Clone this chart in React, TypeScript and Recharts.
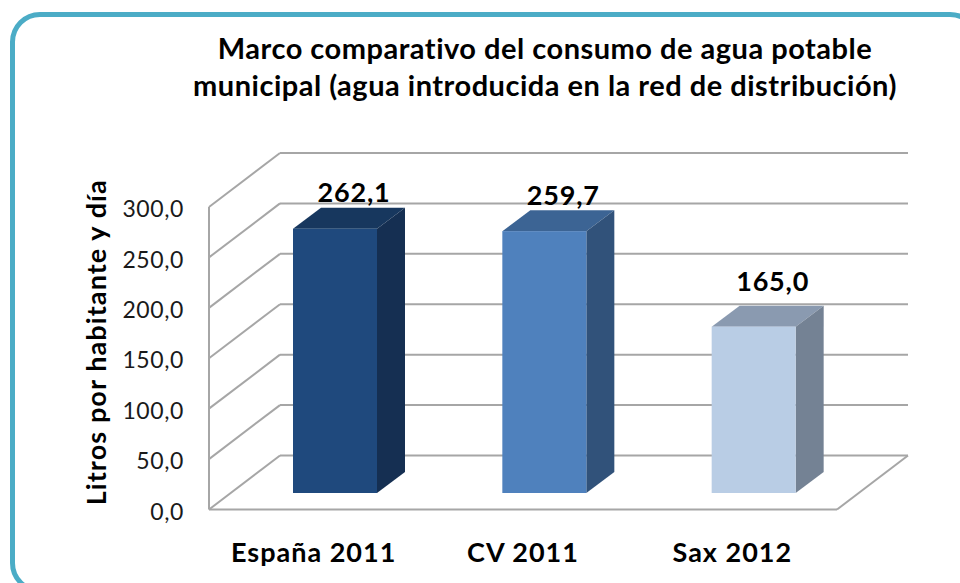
import React from "react";
import { BarChart, Bar, XAxis, YAxis, CartesianGrid, LabelList, Label } from "recharts";

const categories = ["España 2011", "CV 2011", "Sax 2012"];
const values = [262.1, 259.7, 165.0];
const yTicks = [0, 50, 100, 150, 200, 250, 300];
const titleLines = [
  "Marco comparativo del consumo de agua potable",
  "municipal (agua introducida en la red de distribución)",
];
const yTitle = "Litros por habitante y día";

const FONT = "Lato, 'Open Sans', sans-serif";
const frontColors = ["#1F497D", "#4F81BD", "#B9CDE5"];
const sideColors = ["#152F52", "#31527A", "#748294"];
const topColors = ["#17375E", "#3C6494", "#8A9AB0"];
const labelLift = [0, 0, 9];
const GRID = "#A6A6A6";
const PLOT_BOTTOM = 509.5;
const WALL_DX = 71;
const WALL_DY = 54;
const BAR_DX = 21;
const BAR_DY = 16.5;
const DEPTH_X = 28;
const DEPTH_Y = 21;

const data = categories.map((name, i) => ({ name, value: values[i] }));
const fmt = (v: number) => v.toFixed(1).replace(".", ",");

function Bar3D(props: any) {
  const { x, y, width, height, index } = props;
  const l = x + BAR_DX;
  const r = l + width;
  const t = y - BAR_DY;
  const b = t + height;
  return (
    <g>
      <polygon
        points={`${l},${t} ${l + DEPTH_X},${t - DEPTH_Y} ${r + DEPTH_X},${t - DEPTH_Y} ${r},${t}`}
        fill={topColors[index]}
      />
      <polygon
        points={`${r},${t} ${r + DEPTH_X},${t - DEPTH_Y} ${r + DEPTH_X},${b - DEPTH_Y} ${r},${b}`}
        fill={sideColors[index]}
      />
      <rect x={l} y={t} width={width} height={height} fill={frontColors[index]} />
    </g>
  );
}

function GridLine(props: any) {
  const { x1, x2, y1 } = props;
  const isFloor = Math.abs(y1 - PLOT_BOTTOM) < 1;
  const back = y1 - WALL_DY;
  return (
    <g fill="none" stroke={GRID} strokeWidth={2}>
      <line x1={x1} y1={y1} x2={x1 + WALL_DX} y2={back} />
      <line x1={x1 + WALL_DX} y1={back} x2={x2 + WALL_DX} y2={back} />
      {isFloor && <line x1={x2} y1={y1} x2={x2 + WALL_DX} y2={back} />}
    </g>
  );
}

function BarValue(props: any) {
  const { x, y, width, index, value } = props;
  return (
    <text
      x={x + width / 2 + 40}
      y={y - 43 - labelLift[index]}
      textAnchor="middle"
      fontFamily={FONT}
      fontWeight={700}
      fontSize={27}
      letterSpacing={0.8}
      fill="#000"
    >
      {fmt(value)}
    </text>
  );
}

export default function App() {
  return (
    <div style={{ position: "absolute", left: 0, top: 0, width: 960, height: 583, overflow: "hidden", background: "#fff" }}>
      <div
        style={{
          position: "absolute",
          left: 10,
          top: 12,
          width: 970,
          height: 581,
          boxSizing: "border-box",
          border: "5px solid #4BACC6",
          borderRadius: 30,
        }}
      />
      <div
        style={{
          position: "absolute",
          left: 150,
          top: 29,
          width: 790,
          textAlign: "center",
          fontFamily: FONT,
          fontWeight: 700,
          fontSize: 29,
          letterSpacing: 0.5,
          lineHeight: "37px",
          color: "#000",
        }}
      >
        {titleLines.map((t) => (
          <div key={t} style={{ whiteSpace: "nowrap" }}>{t}</div>
        ))}
      </div>
      <div style={{ position: "absolute", left: 0, top: 0 }}>
        <BarChart
          width={960}
          height={583}
          data={data}
          barSize={84}
          margin={{ top: 207, right: 123, bottom: 33.5, left: 129 }}
        >
          <CartesianGrid vertical={false} horizontal={GridLine as any} />
          <XAxis
            dataKey="name"
            height={40}
            tickLine={false}
            axisLine={{ stroke: GRID, strokeWidth: 2 }}
            tick={{ fontFamily: FONT, fontWeight: 700, fontSize: 27, letterSpacing: 1, fill: "#000" }}
            tickMargin={27}
            interval={0}
          />
          <YAxis
            width={80}
            domain={[0, 300]}
            ticks={yTicks}
            tickFormatter={fmt}
            tickLine={false}
            axisLine={{ stroke: GRID, strokeWidth: 2 }}
            tick={{ fontFamily: FONT, fontSize: 23, letterSpacing: 0.6, fill: "#1A1A1A", dy: 2 }}
            tickMargin={19}
          >
            <Label
              value={yTitle}
              angle={-90}
              position="insideLeft"
              dx={-38}
              dy={-16}
              style={{ fontFamily: FONT, fontWeight: 700, fontSize: 27, letterSpacing: 1.1, fill: "#000", textAnchor: "middle" }}
            />
          </YAxis>
          <Bar dataKey="value" isAnimationActive={false} shape={Bar3D}>
            <LabelList dataKey="value" content={BarValue as any} />
          </Bar>
        </BarChart>
      </div>
    </div>
  );
}
